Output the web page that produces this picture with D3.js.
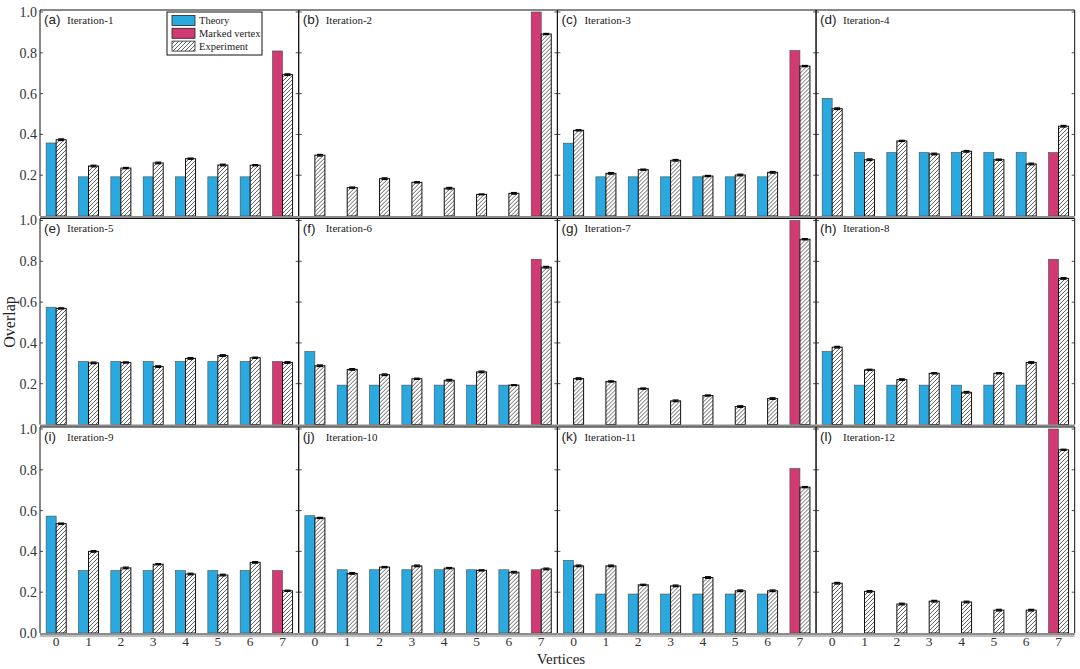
<!DOCTYPE html>
<html><head><meta charset="utf-8">
<script src="https://cdn.jsdelivr.net/npm/d3@7"></script>
<style>html,body{margin:0;padding:0;background:#fff;}svg{display:block;}</style>
</head><body>
<svg id="chart" width="1080" height="669"></svg>
<script>
const vertices = ["0","1","2","3","4","5","6","7"];
const panelLabels = ["(a)","(b)","(c)","(d)","(e)","(f)","(g)","(h)","(i)","(j)","(k)","(l)"];
const iterationNames = ["Iteration-1","Iteration-2","Iteration-3","Iteration-4","Iteration-5","Iteration-6",
  "Iteration-7","Iteration-8","Iteration-9","Iteration-10","Iteration-11","Iteration-12"];
const yTicks = [0.2, 0.4, 0.6, 0.8, 1.0];
const yTickLabelsBottom = [0.0, 0.2, 0.4, 0.6, 0.8, 1.0];
const seriesNames = ["Theory", "Marked vertex", "Experiment"];
const markedVertex = "7";

const theoryValues = [
  [0.358,0.192,0.192,0.192,0.192,0.192,0.192,0.809],
  [0,0,0,0,0,0,0,1.0],
  [0.357,0.192,0.192,0.192,0.192,0.192,0.192,0.811],
  [0.577,0.311,0.311,0.311,0.311,0.311,0.311,0.311],
  [0.575,0.309,0.309,0.309,0.309,0.309,0.309,0.309],
  [0.358,0.193,0.193,0.193,0.193,0.193,0.193,0.810],
  [0,0,0,0,0,0,0,1.0],
  [0.358,0.193,0.193,0.193,0.193,0.193,0.193,0.810],
  [0.573,0.306,0.306,0.306,0.306,0.306,0.306,0.306],
  [0.575,0.310,0.310,0.310,0.310,0.310,0.310,0.310],
  [0.356,0.191,0.191,0.191,0.191,0.191,0.191,0.806],
  [0,0,0,0,0,0,0,1.0]
];
const experimentValues = [
  [0.374,0.245,0.235,0.260,0.281,0.250,0.249,0.693],
  [0.298,0.139,0.183,0.165,0.136,0.106,0.111,0.892],
  [0.420,0.209,0.227,0.273,0.196,0.201,0.214,0.735],
  [0.526,0.276,0.368,0.304,0.317,0.276,0.255,0.440],
  [0.569,0.302,0.304,0.284,0.324,0.338,0.327,0.304],
  [0.288,0.270,0.244,0.224,0.217,0.258,0.193,0.771],
  [0.225,0.211,0.176,0.116,0.142,0.088,0.127,0.908],
  [0.379,0.268,0.220,0.251,0.158,0.251,0.304,0.716],
  [0.536,0.400,0.319,0.337,0.289,0.284,0.346,0.207],
  [0.564,0.292,0.323,0.329,0.318,0.307,0.298,0.314],
  [0.329,0.329,0.236,0.231,0.272,0.207,0.207,0.715],
  [0.244,0.204,0.142,0.156,0.152,0.112,0.112,0.898]
];
const errorValues = [
  [0.004,0.004,0.003,0.004,0.003,0.004,0.003,0.004],
  [0.004,0.003,0.004,0.003,0.004,0.002,0.004,0.003],
  [0.003,0.004,0.003,0.004,0.003,0.004,0.004,0.003],
  [0.004,0.004,0.003,0.004,0.004,0.003,0.004,0.004],
  [0.003,0.004,0.003,0.004,0.004,0.004,0.003,0.004],
  [0.004,0.004,0.004,0.003,0.004,0.004,0.002,0.004],
  [0.004,0.003,0.003,0.004,0.003,0.004,0.004,0.003],
  [0.004,0.003,0.004,0.003,0.004,0.003,0.004,0.004],
  [0.003,0.004,0.004,0.003,0.004,0.004,0.004,0.003],
  [0.003,0.004,0.003,0.004,0.003,0.003,0.004,0.004],
  [0.004,0.004,0.003,0.004,0.004,0.004,0.004,0.003],
  [0.004,0.004,0.004,0.004,0.004,0.004,0.004,0.003]
];

const colTheory = "#29a9e0";
const colMarked = "#d13a73";
const serif = "'Liberation Serif','Times New Roman',serif";
const sans = "'Liberation Sans',Arial,sans-serif";

const svg = d3.select("#chart");
const defs = svg.append("defs");
const pat = defs.append("pattern").attr("id","hatch").attr("patternUnits","userSpaceOnUse")
  .attr("width",4).attr("height",4);
pat.append("rect").attr("width",4).attr("height",4).attr("fill","#fff");
pat.append("path").attr("d","M-1,1 l2,-2 M0,4 l4,-4 M3,5 l2,-2")
  .attr("stroke","#3a3a3a").attr("stroke-width",0.8);

const colLeft = [40, 298.7, 557.4, 816];
const panelW = 258.7;
const rowTop = [10, 218.5, 427];
const panelH = 206;

const x = d3.scaleBand().domain(vertices).range([0, panelW]).paddingInner(0.38).paddingOuter(0.19);
const xs = d3.scaleBand().domain(["t","e"]).range([0, x.bandwidth()]);

for (let p = 0; p < 12; p++) {
  const r = Math.floor(p / 4), c = p % 4;
  const left = colLeft[c], top = rowTop[r];
  const y = d3.scaleLinear().domain([0,1]).range([top + panelH, top + 2]);
  const g = svg.append("g").attr("transform", `translate(${left},0)`);

  // frame
  g.append("line").attr("x1",0).attr("x2",0).attr("y1",top).attr("y2",top+panelH).attr("stroke","#111").attr("stroke-width",1);
  g.append("line").attr("x1",panelW).attr("x2",panelW).attr("y1",top).attr("y2",top+panelH).attr("stroke","#111").attr("stroke-width",1);
  g.append("line").attr("x1",0).attr("x2",panelW).attr("y1",top).attr("y2",top).attr("stroke","#111").attr("stroke-width",1);

  // ticks inside
  const tg = g.append("g");
  tg.selectAll("line.l").data(yTicks).join("line").attr("class","l")
    .attr("x1",0).attr("x2",3).attr("y1",d=>y(d)).attr("y2",d=>y(d)).attr("stroke","#222").attr("stroke-width",0.8);
  tg.selectAll("line.r").data(yTicks).join("line").attr("class","r")
    .attr("x1",panelW-3).attr("x2",panelW).attr("y1",d=>y(d)).attr("y2",d=>y(d)).attr("stroke","#222").attr("stroke-width",0.8);

  if (c === 0) {
    const labs = r === 2 ? yTickLabelsBottom : yTicks;
    g.selectAll("text.yl").data(labs).join("text").attr("class","yl")
      .attr("x",-3).attr("y",d=>y(d)).attr("dy","0.35em").attr("text-anchor","end")
      .attr("font-family",serif).attr("font-size",14).attr("fill","#333")
      .text(d=>d3.format(".1f")(d));
  }

  const tv = theoryValues[p], ev = experimentValues[p], er = errorValues[p];
  const data = vertices.map((v,i)=>({v, t: tv[i], e: ev[i], err: er[i]}));

  // theory bars
  g.selectAll("rect.t").data(data.filter(d=>d.t>0)).join("rect").attr("class","t")
    .attr("x",d=>x(d.v)+xs("t")).attr("width",xs.bandwidth())
    .attr("y",d=>y(d.t)).attr("height",d=>y(0)-y(d.t))
    .attr("fill",d=>d.v===markedVertex?colMarked:colTheory)
    .attr("stroke","#4a4a4a").attr("stroke-width",0.6);
  // experiment bars
  g.selectAll("rect.e").data(data).join("rect").attr("class","e")
    .attr("x",d=>x(d.v)+xs("e")).attr("width",xs.bandwidth())
    .attr("y",d=>y(d.e)).attr("height",d=>y(0)-y(d.e))
    .attr("fill","url(#hatch)").attr("stroke","#111").attr("stroke-width",1);
  // error bars
  const eg = g.selectAll("g.err").data(data).join("g").attr("class","err");
  eg.append("line").attr("x1",d=>x(d.v)+xs("e")+xs.bandwidth()/2-3).attr("x2",d=>x(d.v)+xs("e")+xs.bandwidth()/2+3)
    .attr("y1",d=>y(d.e+d.err)).attr("y2",d=>y(d.e+d.err)).attr("stroke","#000").attr("stroke-width",1.2);
  eg.append("line").attr("x1",d=>x(d.v)+xs("e")+xs.bandwidth()/2-3).attr("x2",d=>x(d.v)+xs("e")+xs.bandwidth()/2+3)
    .attr("y1",d=>y(d.e-d.err)).attr("y2",d=>y(d.e-d.err)).attr("stroke","#000").attr("stroke-width",1.2);
  eg.append("line").attr("x1",d=>x(d.v)+xs("e")+xs.bandwidth()/2).attr("x2",d=>x(d.v)+xs("e")+xs.bandwidth()/2)
    .attr("y1",d=>y(d.e+d.err)).attr("y2",d=>y(d.e-d.err)).attr("stroke","#000").attr("stroke-width",1);

  // bottom grey axis line
  g.append("line").attr("x1",0).attr("x2",panelW).attr("y1",y(0)+1).attr("y2",y(0)+1)
    .attr("stroke","#8c8c8c").attr("stroke-width",2);

  // panel labels
  g.append("text").attr("x",4).attr("y",top+14).attr("font-family",sans).attr("font-size",13.5).attr("fill","#222").text(panelLabels[p]);
  g.append("text").attr("x",27).attr("y",top+13.5).attr("font-family",serif).attr("font-size",11).attr("fill","#222").text(iterationNames[p]);

  // x labels bottom row
  if (r === 2) {
    g.selectAll("text.xl").data(vertices).join("text").attr("class","xl")
      .attr("x",d=>x(d)+x.bandwidth()/2).attr("y",y(0)+12.5).attr("text-anchor","middle")
      .attr("font-family",serif).attr("font-size",13.5).attr("fill","#333").text(d=>d);
    g.append("line").attr("x1",0).attr("x2",panelW).attr("y1",y(0)+3).attr("y2",y(0)+3).attr("stroke","#222").attr("stroke-width",0.6);
  }
}

// legend
const lg = svg.append("g");
lg.append("rect").attr("x",167).attr("y",12).attr("width",95).attr("height",43).attr("fill","#fff").attr("stroke","#111").attr("stroke-width",1);
const legFill = [colTheory, colMarked, "url(#hatch)"];
seriesNames.forEach((s,i)=>{
  const yy = 15.5 + i*12.8;
  lg.append("rect").attr("x",172).attr("y",yy).attr("width",23).attr("height",10)
    .attr("fill",legFill[i]).attr("stroke","#222").attr("stroke-width",0.8);
  lg.append("text").attr("x",199).attr("y",yy+8.5).attr("font-family",serif).attr("font-size",10.5).attr("fill","#222").text(s);
});

// axis titles
svg.append("text").attr("transform","translate(15,322) rotate(-90)").attr("text-anchor","middle")
  .attr("font-family",serif).attr("font-size",16).attr("fill","#222").text("Overlap");
svg.append("text").attr("x",561).attr("y",663.5).attr("text-anchor","middle")
  .attr("font-family",serif).attr("font-size",15).attr("fill","#222").text("Vertices");
</script>
</body></html>
